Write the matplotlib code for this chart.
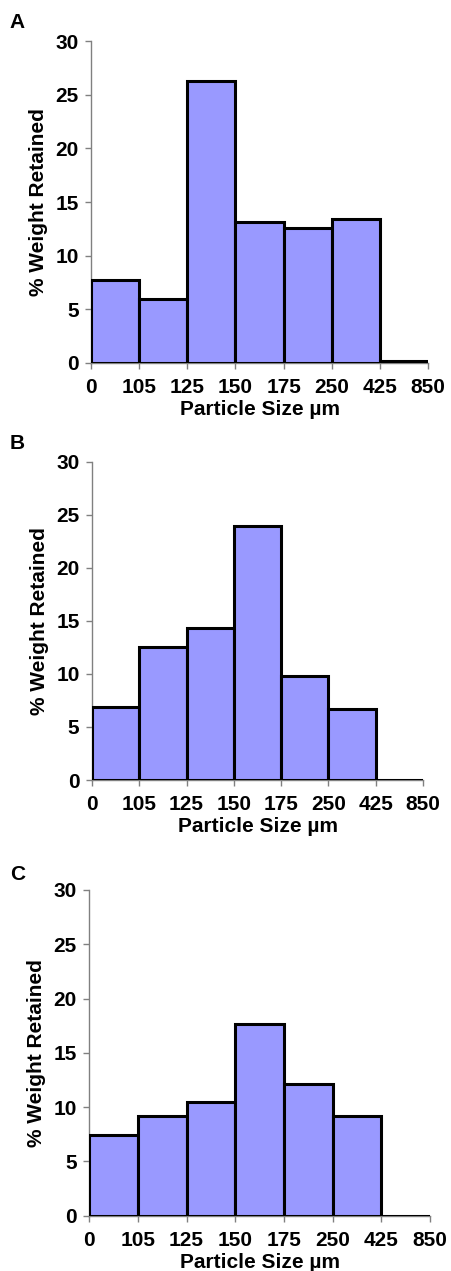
import numpy as np
import matplotlib.pyplot as plt

plt.rcParams['font.family'] = ['Liberation Sans', 'DejaVu Sans']
plt.rcParams['font.weight'] = 'bold'

# sieve edges (µm), bins are between consecutive edges
sizeEdges = ['0', '105', '125', '150', '175', '250', '425', '850']

# % weight retained per bin
retainedA = [7.7, 6.0, 26.3, 13.1, 12.6, 13.4, 0.2]
retainedB = [6.9, 12.5, 14.3, 23.9, 9.8, 6.7, 0.0]
retainedC = [7.4, 9.2, 10.5, 17.7, 12.1, 9.2, 0.0]

panels = [('A', retainedA, [0.202, 0.7144, 0.747, 0.2533], 0.982),
          ('B', retainedB, [0.204, 0.3863, 0.734, 0.2504], 0.651),
          ('C', retainedC, [0.198, 0.0435, 0.755, 0.2563], 0.312)]

fig = plt.figure(figsize=(4.51, 12.71), dpi=100)

for letter, values, rect, letterY in panels:
    ax = fig.add_axes(rect)
    nBins = len(values)
    ax.bar(np.arange(nBins), values, width=1.0, align='edge',
           color='#9999ff', edgecolor='black', linewidth=2.2, zorder=3)
    ax.set_xlim(0, nBins)
    ax.set_ylim(0, 30)
    ax.set_xticks(np.arange(nBins + 1))
    ax.set_xticklabels(sizeEdges)
    ax.set_yticks(np.arange(0, 31, 5))
    for side in ['top', 'right']:
        ax.spines[side].set_visible(False)
    for side in ['left', 'bottom']:
        ax.spines[side].set_color('#808080')
        ax.spines[side].set_linewidth(1)
    ax.tick_params(direction='out', length=4, width=1, color='#808080',
                   labelsize=15)
    ax.tick_params(axis='y', pad=5)
    ax.tick_params(axis='x', pad=7)
    ax.set_xlabel('Particle Size µm', fontsize=15, fontweight='bold', labelpad=2)
    ax.set_ylabel('% Weight Retained', fontsize=15, fontweight='bold', labelpad=5)
    fig.text(0.022, letterY, letter, fontsize=15, fontweight='bold',
             ha='left', va='center')

fig.savefig('out.png', dpi=100)
